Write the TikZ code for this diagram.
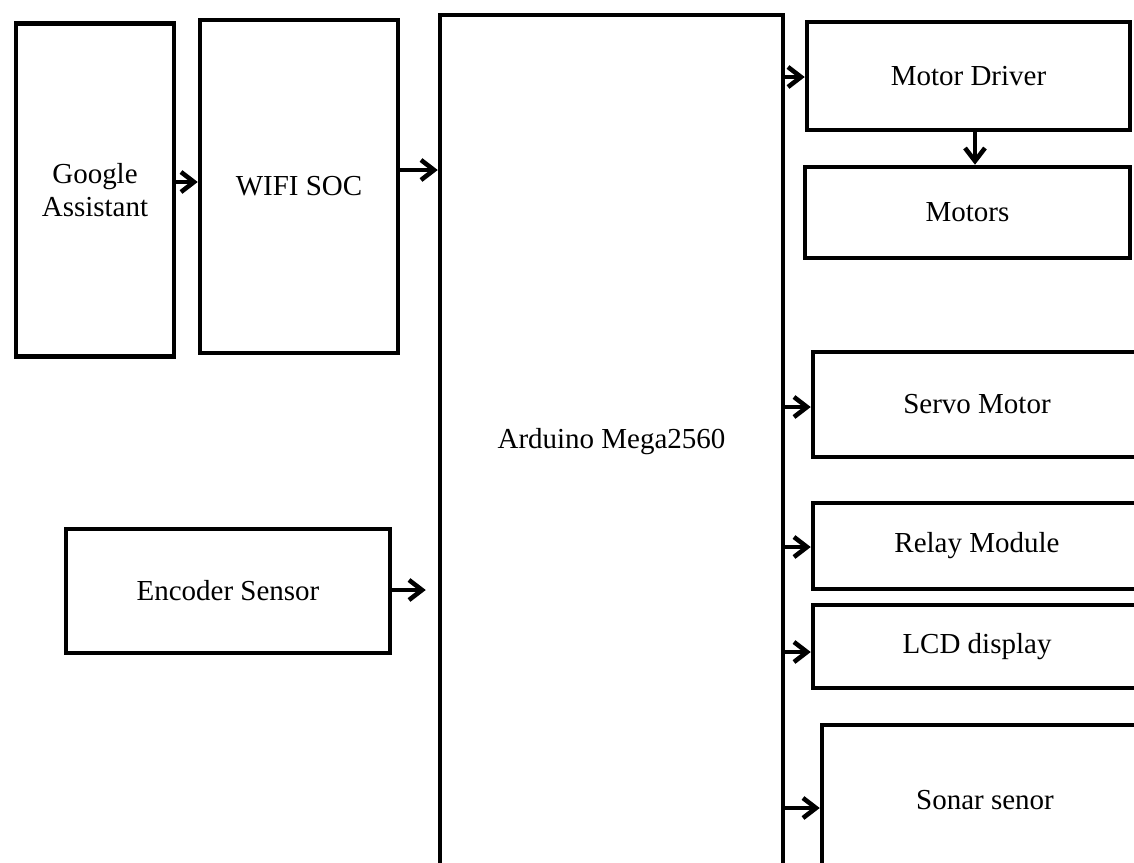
\documentclass[tikz,border=0pt]{standalone}
\usepackage{fontspec}
\setmainfont{Liberation Serif}
\usetikzlibrary{arrows.meta,positioning}

\tikzset{
  blk/.style={draw,line width=2.6pt,inner sep=0pt,align=center,
    font=\fontsize{16.5}{20}\selectfont},
  arr/.style={line width=2.6pt,-{Straight Barb[length=2.6mm,width=4mm,line width=2.6pt]}}
}

\begin{document}
\begin{tikzpicture}[x=0.02cm,y=-0.02cm]
	\clip (0,0) rectangle (1134,863);
	\fill[white] (0,0) rectangle (1134,863);
	% left column
	\node[blk,minimum width=3.16cm,minimum height=6.66cm] (ga) at (95,190) {Google\\[-1pt]Assistant};
	\node[blk,minimum width=3.96cm,minimum height=6.66cm] (wifi) at (299,186.5) {WIFI SOC};
	\node[blk,minimum width=6.48cm,minimum height=2.48cm] (enc) at (228,591) {Encoder Sensor};
	% controller
	\node[blk,minimum width=6.86cm,minimum height=17.08cm] (ard) at (611.5,442) {Arduino Mega2560};
	% right column
	\node[blk,minimum width=6.46cm,minimum height=2.16cm] (drv) at (968.5,76) {Motor Driver};
	\node[blk,minimum width=6.5cm,minimum height=1.82cm] (mot) at (967.5,212.5) {Motors};
	\node[blk,minimum width=6.56cm,minimum height=2.1cm] (servo) at (977,404.5) {Servo Motor};
	\node[blk,minimum width=6.56cm,minimum height=1.72cm] (relay) at (977,546) {Relay Module};
	\node[blk,minimum width=6.56cm,minimum height=1.66cm] (lcd) at (977,646.5) {LCD display};
	\node[blk,minimum width=6.52cm,minimum height=3cm] (sonar) at (985,800) {Sonar senor};
	% connections
	\draw[arr] (ga.east |- 0,182) -- (wifi.west |- 0,182);
	\draw[arr] (wifi.east |- 0,170) -- (ard.west |- 0,170);
	\draw[arr] (enc.east |- 0,590) -- ([xshift=-0.24cm]ard.west |- 0,590);
	\draw[arr] (ard.east |- 0,77) -- (drv.west |- 0,77);
	\draw[arr] (drv.south -| 975,0) -- (mot.north -| 975,0);
	\draw[arr] (ard.east |- 0,407) -- (servo.west |- 0,407);
	\draw[arr] (ard.east |- 0,547) -- (relay.west |- 0,547);
	\draw[arr] (ard.east |- 0,652) -- (lcd.west |- 0,652);
	\draw[arr] (ard.east |- 0,808) -- (sonar.west |- 0,808);
\end{tikzpicture}
\end{document}
